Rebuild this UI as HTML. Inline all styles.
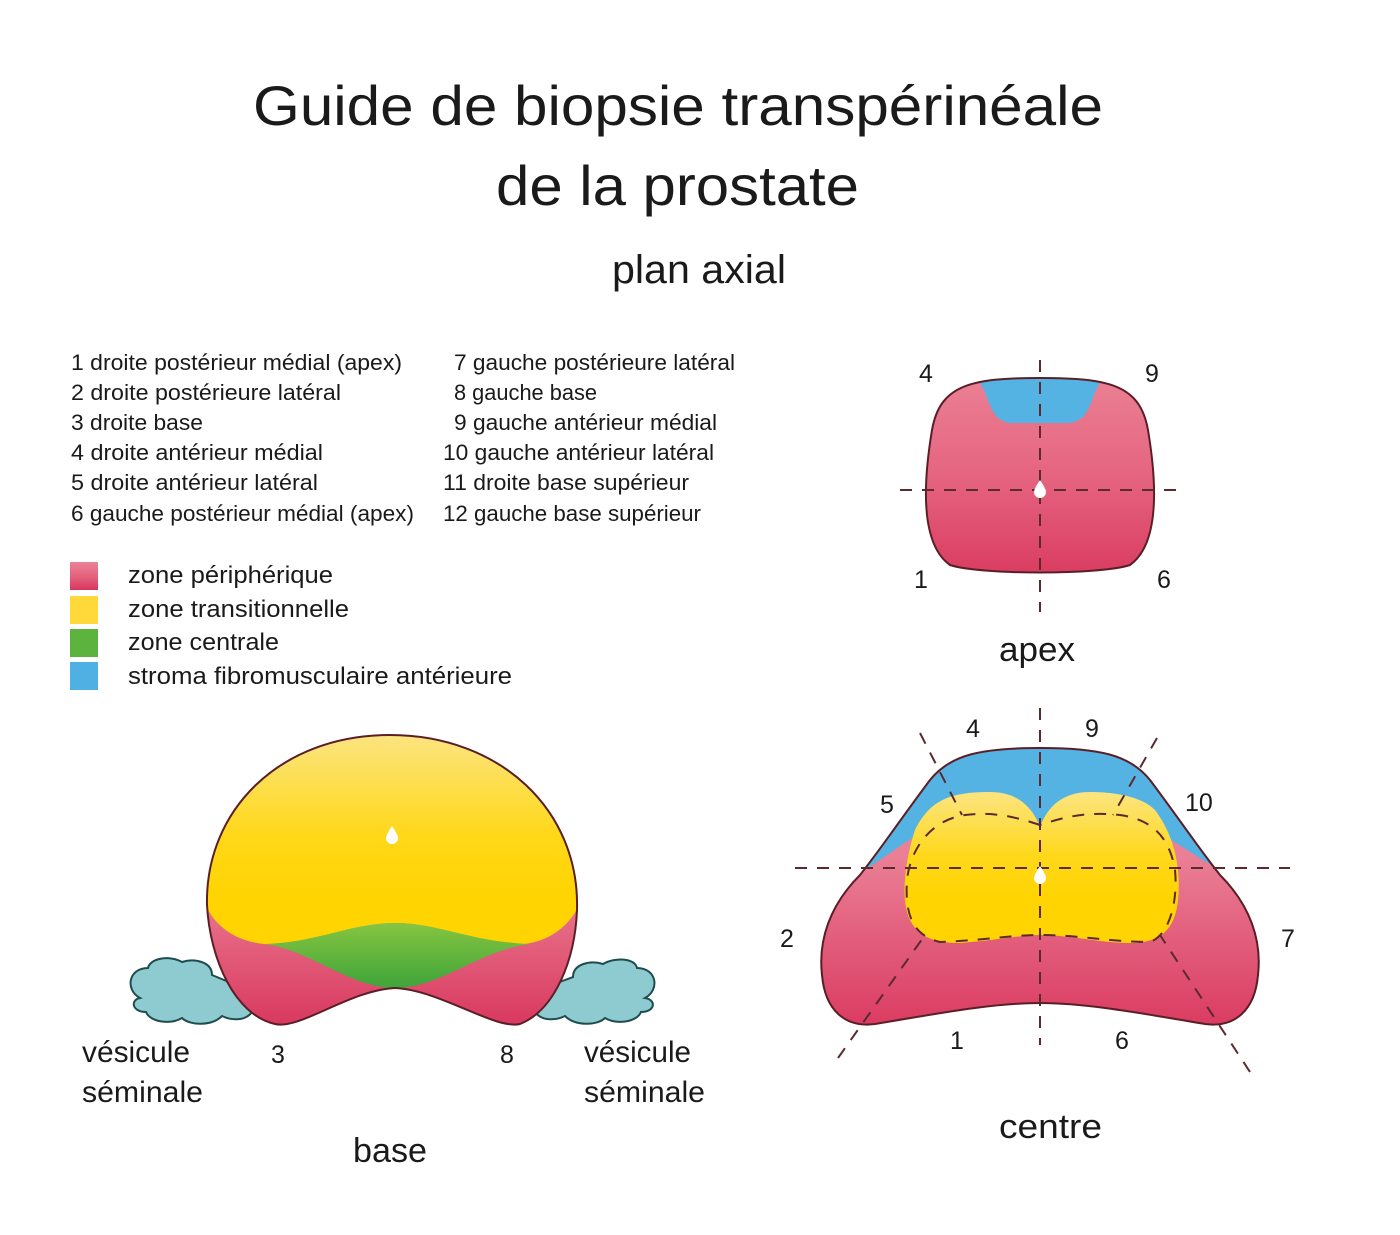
<!DOCTYPE html>
<html><head><meta charset="utf-8"><style>
html,body{margin:0;padding:0;background:#fff;}
svg{display:block;}
text{font-family:"Liberation Sans",sans-serif;fill:#1a1a1a;}
</style></head><body>
<svg width="1400" height="1235" viewBox="0 0 1400 1235" xmlns="http://www.w3.org/2000/svg">
<defs>
<linearGradient id="pk" x1="0" y1="0" x2="0" y2="1"><stop offset="0" stop-color="#eb8296"/><stop offset="0.5" stop-color="#e5637e"/><stop offset="1" stop-color="#d8365d"/></linearGradient>
<linearGradient id="pkc" x1="0" y1="740" x2="0" y2="1030" gradientUnits="userSpaceOnUse"><stop offset="0.4" stop-color="#ea7f95"/><stop offset="1" stop-color="#da3a60"/></linearGradient>
<linearGradient id="pkb" x1="0" y1="900" x2="0" y2="1030" gradientUnits="userSpaceOnUse"><stop offset="0" stop-color="#e9768d"/><stop offset="1" stop-color="#d8365d"/></linearGradient>
<linearGradient id="yl" x1="0" y1="735" x2="0" y2="900" gradientUnits="userSpaceOnUse"><stop offset="0" stop-color="#fbe480"/><stop offset="0.6" stop-color="#ffd81a"/><stop offset="1" stop-color="#ffd400"/></linearGradient>
<linearGradient id="ylc" x1="0" y1="790" x2="0" y2="900" gradientUnits="userSpaceOnUse"><stop offset="0" stop-color="#fbe584"/><stop offset="0.6" stop-color="#ffd81a"/><stop offset="1" stop-color="#ffd400"/></linearGradient>
<linearGradient id="gr" x1="0" y1="923" x2="0" y2="988" gradientUnits="userSpaceOnUse"><stop offset="0" stop-color="#86c540"/><stop offset="1" stop-color="#3ea43a"/></linearGradient>
<clipPath id="cb"><path d="M390,735 C500,735 580,810 577,910 C575,960 555,1010 520,1024 C495,1030 440,990 395,988 C350,990 300,1030 275,1024 C235,1015 210,960 207,905 C205,810 280,735 390,735 Z"/></clipPath>
<clipPath id="cc"><path d="M1040,748 C1100,748 1130,755 1150,780 C1180,820 1200,850 1220,875 C1250,905 1262,940 1258,975 C1255,1010 1235,1028 1205,1024 C1150,1015 1090,1003 1040,1003 C990,1003 930,1015 875,1024 C845,1028 825,1010 822,975 C818,940 830,905 860,875 C880,850 900,820 930,780 C950,755 980,748 1040,748 Z"/></clipPath>
<clipPath id="ca"><path d="M1040,378 C1110,378 1140,385 1148,430 C1158,490 1158,545 1130,565 C1100,575 980,575 950,565 C922,545 922,490 932,430 C940,385 970,378 1040,378Z"/></clipPath>
</defs>

<text x="253" y="125" font-size="56" textLength="850" lengthAdjust="spacingAndGlyphs">Guide de biopsie transpérinéale</text>
<text x="496" y="205" font-size="56" textLength="363" lengthAdjust="spacingAndGlyphs">de la prostate</text>
<text x="612" y="283" font-size="40" textLength="174" lengthAdjust="spacingAndGlyphs">plan axial</text>

<g font-size="22">
<text x="71" y="370" textLength="331" lengthAdjust="spacingAndGlyphs">1 droite postérieur médial (apex)</text>
<text x="71" y="400" textLength="270" lengthAdjust="spacingAndGlyphs">2 droite postérieure latéral</text>
<text x="71" y="430" textLength="132" lengthAdjust="spacingAndGlyphs">3 droite base</text>
<text x="71" y="460" textLength="252" lengthAdjust="spacingAndGlyphs">4 droite antérieur médial</text>
<text x="71" y="490" textLength="247" lengthAdjust="spacingAndGlyphs">5 droite antérieur latéral</text>
<text x="71" y="521" textLength="343" lengthAdjust="spacingAndGlyphs">6 gauche postérieur médial (apex)</text>
<text x="454" y="370" textLength="281" lengthAdjust="spacingAndGlyphs">7 gauche postérieure latéral</text>
<text x="454" y="400" textLength="143" lengthAdjust="spacingAndGlyphs">8 gauche base</text>
<text x="454" y="430" textLength="263" lengthAdjust="spacingAndGlyphs">9 gauche antérieur médial</text>
<text x="443" y="460" textLength="271" lengthAdjust="spacingAndGlyphs">10 gauche antérieur latéral</text>
<text x="443" y="490" textLength="246" lengthAdjust="spacingAndGlyphs">11 droite base supérieur</text>
<text x="443" y="521" textLength="258" lengthAdjust="spacingAndGlyphs">12 gauche base supérieur</text>
</g>

<rect x="70" y="562" width="28" height="28" fill="url(#pk)"/>
<rect x="70" y="596" width="28" height="28" fill="#ffd93a"/>
<rect x="70" y="629" width="28" height="28" fill="#5cb33e"/>
<rect x="70" y="662" width="28" height="28" fill="#4fb0e3"/>
<g font-size="24">
<text x="128" y="583" textLength="205" lengthAdjust="spacingAndGlyphs">zone périphérique</text>
<text x="128" y="617" textLength="221" lengthAdjust="spacingAndGlyphs">zone transitionnelle</text>
<text x="128" y="650" textLength="151" lengthAdjust="spacingAndGlyphs">zone centrale</text>
<text x="128" y="684" textLength="384" lengthAdjust="spacingAndGlyphs">stroma fibromusculaire antérieure</text>
</g>

<!-- APEX -->
<g clip-path="url(#ca)">
<rect x="900" y="370" width="280" height="220" fill="url(#pk)"/>
<path d="M965,370 L975,380 C990,385 985,422 1012,423 L1068,423 C1095,422 1090,385 1105,380 L1115,370Z" fill="#55b3e4"/>
</g>
<path d="M1040,378 C1110,378 1140,385 1148,430 C1158,490 1158,545 1130,565 C1100,575 980,575 950,565 C922,545 922,490 932,430 C940,385 970,378 1040,378Z" fill="none" stroke="#5a1f26" stroke-width="2"/>
<g stroke="#5a2a2e" stroke-width="2" stroke-dasharray="12,10" fill="none">
<line x1="1040" y1="360" x2="1040" y2="612"/>
<line x1="900" y1="490" x2="1180" y2="490"/>
</g>
<path d="M1040,480 C1044,486 1046,490 1046,492 A6,6 0 0 1 1034,492 C1034,490 1036,486 1040,480Z" fill="#fff"/>
<g font-size="25">
<text x="919" y="382">4</text><text x="1145" y="382">9</text>
<text x="914" y="588">1</text><text x="1157" y="588">6</text>
</g>
<text x="999" y="661" font-size="34" textLength="76" lengthAdjust="spacingAndGlyphs">apex</text>

<!-- BASE -->
<g fill="#8ecbd0" stroke="#1f4d4f" stroke-width="2">
<path d="M140,998 C125,990 128,968 148,968 C150,958 170,955 182,962 C195,958 212,962 212,975 L248,990 L252,1012 C245,1022 230,1020 222,1016 C212,1026 190,1026 182,1018 C170,1025 150,1022 146,1012 C132,1012 130,1000 140,998Z"/>
<path d="M645,998 C660,990 657,968 637,968 C635,958 615,957 603,964 C590,960 573,964 573,977 L538,990 L535,1012 C542,1022 557,1020 565,1016 C575,1026 597,1026 605,1018 C617,1025 637,1022 641,1012 C655,1012 657,1000 645,998Z"/>
</g>
<g clip-path="url(#cb)">
<rect x="200" y="730" width="390" height="300" fill="url(#pkb)"/>
<path d="M150,700 L650,700 L650,905 L578,908 C565,930 545,945 510,945 C470,943 440,923 395,923 C350,923 320,945 280,945 C240,945 218,930 205,905 Z" fill="url(#yl)"/>
<path d="M265,944 C320,942 350,923 395,923 C440,923 470,942 530,944 C480,950 440,988 395,988 C350,988 310,950 265,944 Z" fill="url(#gr)"/>
</g>
<path d="M390,735 C500,735 580,810 577,910 C575,960 555,1010 520,1024 C495,1030 440,990 395,988 C350,990 300,1030 275,1024 C235,1015 210,960 207,905 C205,810 280,735 390,735 Z" fill="none" stroke="#5a1f26" stroke-width="2"/>
<path d="M392,826 C396,832 398,836 398,838 A6,6 0 0 1 386,838 C386,836 388,832 392,826Z" fill="#fff"/>
<g font-size="30">
<text x="82" y="1062" textLength="108" lengthAdjust="spacingAndGlyphs">vésicule</text>
<text x="82" y="1102" textLength="121" lengthAdjust="spacingAndGlyphs">séminale</text>
<text x="584" y="1062" textLength="107" lengthAdjust="spacingAndGlyphs">vésicule</text>
<text x="584" y="1102" textLength="121" lengthAdjust="spacingAndGlyphs">séminale</text>
<text x="353" y="1162" font-size="34" textLength="74" lengthAdjust="spacingAndGlyphs">base</text>
</g>
<g font-size="25"><text x="271" y="1063">3</text><text x="500" y="1063">8</text></g>

<!-- CENTRE -->
<g clip-path="url(#cc)">
<rect x="815" y="740" width="450" height="295" fill="url(#pkc)"/>
<path d="M780,700 L1300,700 L1300,885 L1222,872 L1165,836 L915,836 L862,872 L780,885Z" fill="#55b3e4"/>
<path d="M1040,827 C1030,800 1010,792 990,792 C950,792 930,800 915,830 C905,860 900,900 910,920 C920,940 940,943 960,943 C1000,940 1020,935 1040,935 C1070,935 1100,943 1130,943 C1160,943 1175,930 1178,900 C1182,860 1170,830 1155,810 C1140,795 1110,792 1090,792 C1070,792 1050,800 1040,827Z" fill="url(#ylc)"/>
</g>
<path d="M1040,748 C1100,748 1130,755 1150,780 C1180,820 1200,850 1220,875 C1250,905 1262,940 1258,975 C1255,1010 1235,1028 1205,1024 C1150,1015 1090,1003 1040,1003 C990,1003 930,1015 875,1024 C845,1028 825,1010 822,975 C818,940 830,905 860,875 C880,850 900,820 930,780 C950,755 980,748 1040,748 Z" fill="none" stroke="#5a1f26" stroke-width="2"/>
<g stroke="#5a2a2e" stroke-width="2" stroke-dasharray="12,10" fill="none">
<line x1="1040" y1="708" x2="1040" y2="1045"/>
<line x1="795" y1="868" x2="1290" y2="868"/>
<line x1="920" y1="733" x2="962" y2="815"/>
<line x1="1157" y1="738" x2="1113" y2="815"/>
<line x1="838" y1="1058" x2="925" y2="935"/>
<line x1="1250" y1="1072" x2="1160" y2="935"/>
<path d="M1040,825 C1010,815 990,812 965,815 C930,820 910,850 907,880 C905,910 910,935 940,942 C990,940 1010,935 1040,935 C1080,935 1110,942 1150,942 C1170,935 1178,900 1175,870 C1170,840 1155,820 1120,815 C1090,812 1070,815 1040,825"/>
</g>
<path d="M1040,866 C1044,872 1046,876 1046,878 A6,6 0 0 1 1034,878 C1034,876 1036,872 1040,866Z" fill="#fff"/>
<g font-size="25">
<text x="966" y="737">4</text><text x="1085" y="737">9</text>
<text x="880" y="813">5</text><text x="1185" y="811">10</text>
<text x="780" y="947">2</text><text x="1281" y="947">7</text>
<text x="950" y="1049">1</text><text x="1115" y="1049">6</text>
</g>
<text x="999" y="1138" font-size="34" textLength="103" lengthAdjust="spacingAndGlyphs">centre</text>
</svg>
</body></html>
